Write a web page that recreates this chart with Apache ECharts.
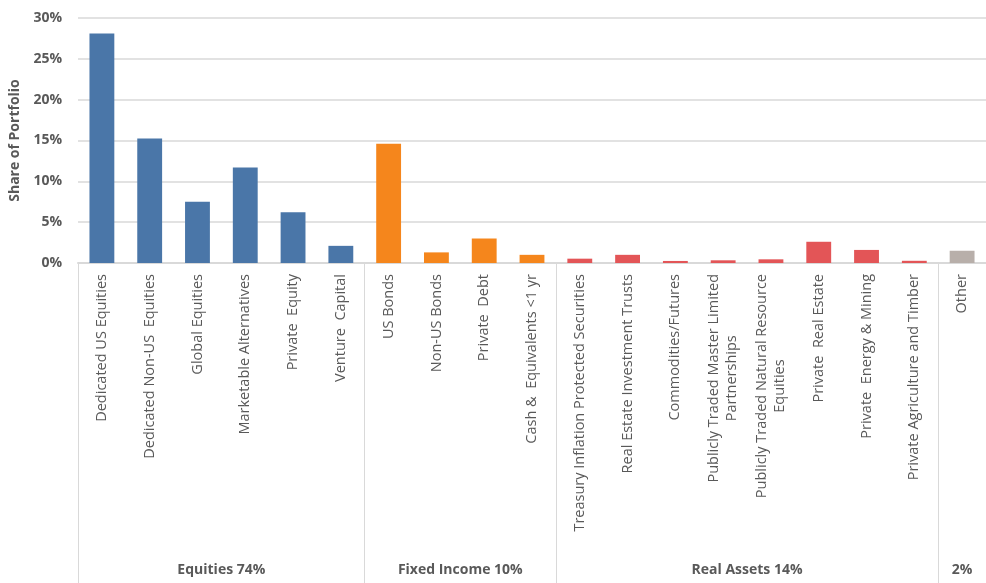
<!DOCTYPE html>
<html>
<head>
<meta charset="utf-8">
<script src="https://cdn.jsdelivr.net/npm/echarts@6/dist/echarts.min.js"></script>
<style>
html,body{margin:0;padding:0;background:#fff;}
#chart{width:986px;height:583px;}
</style>
</head>
<body>
<div id="chart"></div>
<script>
const categories = [
  "Dedicated US Equities",
  "Dedicated Non-US  Equities",
  "Global Equities",
  "Marketable Alternatives",
  "Private  Equity",
  "Venture  Capital",
  "US Bonds",
  "Non-US Bonds",
  "Private  Debt",
  "Cash &  Equivalents <1 yr",
  "Treasury Inflation Protected Securities",
  "Real Estate Investment Trusts",
  "Commodities/Futures",
  "Publicly Traded Master Limited\nPartnerships",
  "Publicly Traded Natural Resource\nEquities",
  "Private  Real Estate",
  "Private  Energy & Mining",
  "Private Agriculture and Timber",
  "Other"
];
const values = [28.1, 15.25, 7.5, 11.7, 6.2, 2.1, 14.6, 1.3, 3.0, 1.0, 0.53, 1.0, 0.25, 0.33, 0.45, 2.6, 1.6, 0.27, 1.5];
const groupNames = ["Equities 74%", "Fixed Income 10%", "Real Assets 14%", "2%"];
const groupSizes = [6, 4, 8, 1];
const groupColors = ["#4A76A8", "#F5861C", "#E35557", "#B8AFAA"];
const yTicks = [0, 5, 10, 15, 20, 25, 30];

// derived group boundaries and centres
const boundaries = [];
const centres = [];
let acc = 0;
groupSizes.forEach(n => { boundaries.push(acc); centres.push(acc + n / 2); acc += n; });
const groupOf = [];
groupSizes.forEach((n, g) => { for (let i = 0; i < n; i++) groupOf.push(g); });

const chart = echarts.init(document.getElementById('chart'));
const labelColor = '#595959';
chart.setOption({
  animation: false,
  grid: { left: 75, right: 0, top: 18, bottom: 320 },
  xAxis: [
    {
      type: 'category',
      data: categories,
      axisLine: { lineStyle: { color: '#D9D9D9', width: 2 } },
      axisTick: { show: false },
      axisLabel: {
        interval: 0,
        rotate: 90,
        margin: 11,
        color: labelColor,
        fontFamily: 'Open Sans',
        fontSize: 14.5,
        formatter: v => v.split('\n').map(s => '{c|' + s + '}').join('\n'),
        rich: { c: { align: 'center', color: labelColor, fontFamily: 'Open Sans', fontSize: 14.5, lineHeight: 18 } }
      }
    },
    {
      type: 'value',
      min: 0,
      max: categories.length,
      position: 'bottom',
      offset: 320,
      axisLine: { show: false },
      splitLine: { show: false },
      axisTick: {
        show: true,
        inside: true,
        length: 320,
        customValues: boundaries,
        lineStyle: { color: '#D9D9D9', width: 1 }
      },
      axisLabel: {
        show: true,
        inside: true,
        margin: 6,
        customValues: centres,
        formatter: v => {
          const i = centres.findIndex(c => Math.abs(c - v) < 1e-6);
          return i >= 0 ? groupNames[i] : '';
        },
        color: labelColor,
        fontFamily: 'Liberation Sans Narrow, Open Sans',
        fontSize: 14,
        fontWeight: 'bold'
      }
    }
  ],
  yAxis: {
    type: 'value',
    min: 0,
    max: 30,
    interval: 5,
    name: 'Share of Portfolio',
    nameLocation: 'middle',
    nameGap: 56,
    nameTextStyle: { color: labelColor, fontFamily: 'Open Sans', fontSize: 14, fontWeight: 'bold' },
    axisLine: { show: false },
    axisTick: { show: false },
    axisLabel: {
      margin: 16,
      color: labelColor,
      fontFamily: 'Open Sans',
      fontSize: 14,
      fontWeight: 'bold',
      formatter: v => yTicks.includes(v) ? v + '%' : ''
    },
    splitLine: { lineStyle: { color: '#D9D9D9', width: 1.5 } }
  },
  series: [{
    type: 'bar',
    data: values,
    barCategoryGap: '48%',
    itemStyle: { color: p => groupColors[groupOf[p.dataIndex]] }
  }]
});
</script>
</body>
</html>
